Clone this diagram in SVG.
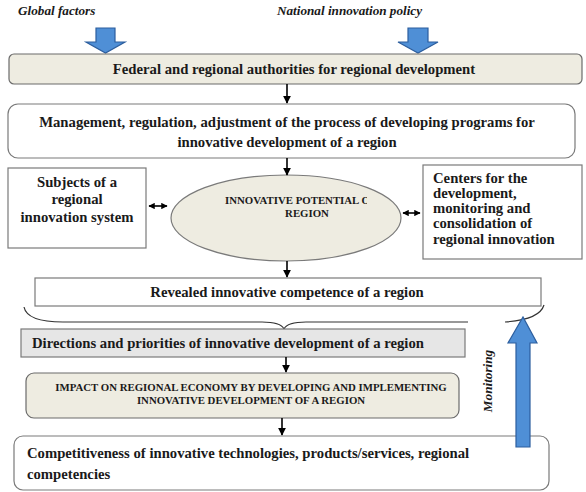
<svg xmlns="http://www.w3.org/2000/svg" width="586" height="492" viewBox="0 0 586 492">
<style>
text{font-family:"Liberation Serif","Times New Roman",serif;font-weight:bold;fill:#1a1a1a}
.t14{font-size:14.7px}
.cap{font-size:10.8px}
.it{font-style:italic;font-size:13.2px}
.beige{fill:#EEECE1;stroke:#6b6b6b;stroke-width:1.2}
.plain{fill:#fff;stroke:#7a7a7a;stroke-width:1.2}
.conn{stroke:#000;stroke-width:1.6;fill:none}
.blue{fill:#4F8FD6;stroke:#2C5E9E;stroke-width:1.2}
</style>
<defs>
<marker id="ah" viewBox="0 0 10 10" refX="9" refY="5" markerWidth="5" markerHeight="5" orient="auto">
<path d="M0,0L10,5L0,10z" fill="#000"/>
</marker>
<marker id="ahs" viewBox="0 0 10 10" refX="9" refY="5" markerWidth="4" markerHeight="4" orient="auto-start-reverse">
<path d="M0,0L10,5L0,10z" fill="#000"/>
</marker>
<clipPath id="ellclip"><rect x="150" y="180" width="217" height="50"/></clipPath>
</defs>

<g id="global-factors">
<text class="it" x="18" y="15">Global factors</text>
<path class="blue" d="M96,28H115V42H125L105.5,53L86,42H96Z"/>
</g>
<g id="national-policy">
<text class="it" x="277" y="15">National innovation policy</text>
<path class="blue" d="M408,28H428V42H438L418,53L398,42H408Z"/>
</g>

<g id="federal">
<rect class="beige" x="9" y="54" width="573" height="30" rx="5"/>
<text class="t14" x="294" y="74" text-anchor="middle">Federal and regional authorities for regional development</text>
</g>

<g id="management">
<rect class="plain" x="8" y="104" width="567" height="54" rx="10"/>
<text class="t14" x="287" y="127" text-anchor="middle">Management, regulation, adjustment of the process of developing programs for</text>
<text class="t14" x="287" y="147" text-anchor="middle">innovative development of a region</text>
</g>

<g id="subjects">
<rect class="plain" x="8" y="168" width="138" height="80"/>
<text class="t14" x="77" y="187" text-anchor="middle">Subjects of a</text>
<text class="t14" x="77" y="204" text-anchor="middle">regional</text>
<text class="t14" x="77" y="222" text-anchor="middle">innovation system</text>
</g>

<g id="potential">
<ellipse cx="286" cy="218" rx="115" ry="43" fill="#EEECE1" stroke="#7a7a7a" stroke-width="1.2"/>
<g clip-path="url(#ellclip)">
<text class="cap" x="225" y="204">INNOVATIVE POTENTIAL O</text>
</g>
<text class="cap" x="307" y="217" text-anchor="middle">REGION</text>
</g>

<g id="centers">
<rect class="plain" x="423" y="165" width="159" height="94"/>
<text class="t14" x="433" y="183">Centers for the</text>
<text class="t14" x="433" y="198">development,</text>
<text class="t14" x="433" y="213">monitoring and</text>
<text class="t14" x="433" y="228">consolidation of</text>
<text class="t14" x="433" y="244">regional innovation</text>
</g>

<g id="revealed">
<rect class="plain" x="35" y="278" width="506" height="28"/>
<text class="t14" x="287" y="297" text-anchor="middle">Revealed innovative competence of a region</text>
</g>

<g id="brace">
<path d="M24,307C26,317 40,322 63,322H262C276,322 282,325 284,329C286,325 292,322 306,322H468" fill="none" stroke="#333" stroke-width="1.2"/>
<path d="M505,322C520,321 540,318 544,305" fill="none" stroke="#333" stroke-width="1.2"/>
</g>

<g id="directions">
<rect x="21" y="329" width="444" height="28" fill="#E6E6E6" stroke="#7a7a7a" stroke-width="1.2"/>
<text class="t14" x="32" y="348">Directions and priorities of innovative development of a region</text>
</g>

<g id="impact">
<rect class="beige" x="26" y="373" width="433" height="45" rx="8" stroke="#333" stroke-width="1.6"/>
<text class="cap" x="251" y="391" text-anchor="middle">IMPACT ON REGIONAL ECONOMY BY DEVELOPING AND IMPLEMENTING</text>
<text class="cap" x="251" y="404" text-anchor="middle">INNOVATIVE DEVELOPMENT OF A REGION</text>
</g>

<g id="competitiveness">
<rect class="plain" x="14" y="436" width="535" height="54" rx="9"/>
<text class="t14" x="27" y="458">Competitiveness of innovative technologies, products/services, regional</text>
<text class="t14" x="27" y="479">competencies</text>
</g>

<g id="monitoring">
<path class="blue" d="M516,447V343H508L523,317L537,343H530V447Z"/>
<text class="it" transform="translate(492,381) rotate(-90)" text-anchor="middle">Monitoring</text>
</g>

<g id="connectors">
<line class="conn" x1="287" y1="84" x2="287" y2="103" marker-end="url(#ah)"/>
<line class="conn" x1="287" y1="158" x2="287" y2="175" marker-end="url(#ah)"/>
<line class="conn" x1="287" y1="261" x2="287" y2="277" marker-end="url(#ah)"/>
<line class="conn" x1="286" y1="357" x2="286" y2="372" marker-end="url(#ah)"/>
<line class="conn" x1="282" y1="418" x2="282" y2="435" marker-end="url(#ah)"/>
<line class="conn" x1="149" y1="206" x2="167" y2="206" marker-start="url(#ahs)" marker-end="url(#ahs)"/>
<line class="conn" x1="403" y1="213" x2="420" y2="213" marker-start="url(#ahs)" marker-end="url(#ahs)"/>
</g>
</svg>
